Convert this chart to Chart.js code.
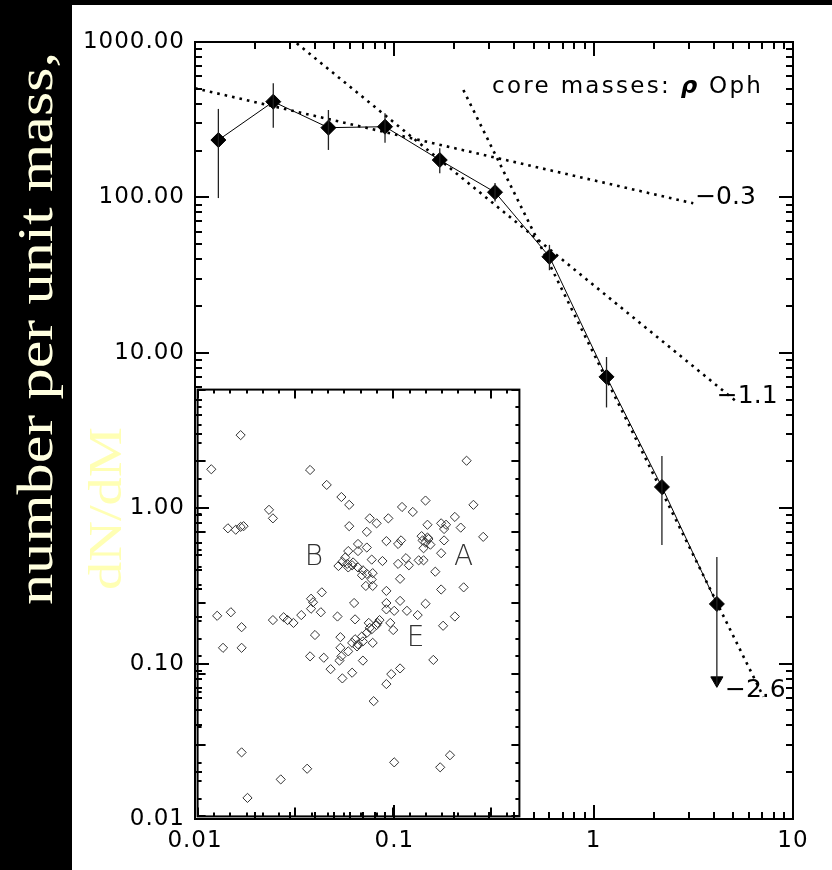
<!DOCTYPE html>
<html><head><meta charset="utf-8">
<script src="https://cdn.jsdelivr.net/npm/chart.js@4.4.1/dist/chart.umd.min.js"></script>
<style>
html,body{margin:0;padding:0;background:#000;width:832px;height:870px;overflow:hidden}
#wrap{position:relative;width:832px;height:870px}
#main{position:absolute;left:0;top:0}
#inset{position:absolute;left:192px;top:384px}
</style></head><body>
<div id="wrap"><canvas id="main" width="832" height="870"></canvas><canvas id="inset" width="333" height="438"></canvas></div>
<script>
// ---------- main plot data ----------
const massBins = [0.0131, 0.0247, 0.0467, 0.0898, 0.169, 0.32, 0.60, 1.16, 2.20, 4.15];
const dNdM     = [234, 413, 281, 285, 174, 108, 41.5, 7.0, 1.37, 0.242];
const errHigh  = [371, 542, 365, 348, 207, 124, 49.5, 9.4, 2.17, 0.485];
const errLow   = [99, 281, 202, 225, 143, 94, 34, 4.45, 0.58, 0.073];
const upperLimitMass = [4.15];
const upperLimitTip  = [0.078];

// power-law fits (end points)
const fitShallowX = [0.01, 3.16];  const fitShallowY = [504, 91.6];
const fitMidX     = [0.0324, 5.22]; const fitMidY     = [981, 4.84];
const fitSteepX   = [0.222, 7.1];  const fitSteepY   = [491, 0.0612];
const fitLabels   = ['\u22120.3', '\u22121.1', '\u22122.6'];
const fitLabelX   = [3.23, 4.15, 4.56];
const fitLabelY   = [100, 5.27, 0.0676];

const titleParts = ['core masses: ', '\u03c1', ' Oph'];
const titleAt = [0.309, 470];

const xMajorTicks = [0.01, 0.1, 1, 10];
const xTickLabels = ['0.01', '0.1', '1', '10'];
const yMajorTicks = [0.01, 0.1, 1, 10, 100, 1000];
const yTickLabels = ['0.01', '0.10', '1.00', '10.00', '100.00', '1000.00'];

const axisTitle = 'number per unit mass,';
const axisTitle2 = 'dN/dM';

// ---------- inset (core positions) ----------
const insetX = [0.44,2.75,0.14,1.15,1.32,1.47,1.55,2.33,2.09,2.20,2.82,0.73,0.77,1.76,1.95,2.63,1.83,2.35,2.49,2.54,
 1.55,0.31,0.39,0.44,0.47,2.69,1.73,2.92,1.93,2.08,2.29,2.35,2.33,2.38,2.52,2.05,1.64,1.73,2.31,1.54,
 1.64,2.49,1.51,1.48,1.59,1.78,1.89,2.13,2.26,2.31,2.05,2.16,1.44,1.54,1.64,1.69,1.79,1.68,2.43,1.78,
 2.07,1.72,1.79,2.49,2.72,1.93,1.27,1.16,1.18,2.07,1.93,1.60,2.33,1.16,1.26,0.34,0.20,0.77,0.88,0.92,
 0.98,1.06,1.43,1.61,1.93,2.01,2.14,2.25,2.63,0.45,1.75,1.86,1.83,1.78,1.73,1.68,1.61,1.58,1.63,1.69,
 1.79,2.00,1.97,2.51,1.20,1.46,0.26,0.45,1.46,1.54,1.15,1.29,1.45,1.47,1.69,2.41,1.36,1.58,1.48,2.07,
 1.98,1.93,1.80,0.45,2.58,2.01,1.12,2.48,0.85,0.51,1.76,1.84,1.64,2.36,2.30,2.52,1.53,1.58,1.73];
const insetY = [5.36,5.00,4.88,4.87,4.66,4.49,4.38,4.44,4.35,4.28,4.38,4.31,4.19,4.19,4.19,4.21,4.12,4.10,4.12,4.10,
 4.08,4.05,4.03,4.07,4.08,4.06,4.00,3.93,3.87,3.88,3.94,3.92,3.85,3.82,3.88,3.83,3.83,3.78,3.77,3.73,
 3.73,3.70,3.64,3.58,3.57,3.61,3.59,3.63,3.60,3.60,3.55,3.53,3.52,3.50,3.50,3.46,3.42,3.39,3.44,3.33,
 3.34,3.24,3.24,3.19,3.22,3.17,3.15,3.06,3.01,3.03,3.00,3.00,2.99,2.92,2.87,2.87,2.82,2.76,2.80,2.76,
 2.72,2.83,2.81,2.77,2.91,2.89,2.89,2.83,2.81,2.66,2.72,2.76,2.69,2.63,2.58,2.53,2.49,2.44,2.39,2.46,
 2.44,2.62,2.72,2.68,2.55,2.52,2.37,2.37,2.37,2.32,2.25,2.23,2.19,2.25,2.19,2.20,2.07,2.02,1.94,2.08,
 2.00,1.86,1.62,0.90,0.86,0.76,0.67,0.69,0.52,0.26,2.65,2.72,2.42,3.90,3.88,4.04,3.55,3.53,3.41];
const insetLetters = ['B', 'A', 'E'];
const insetLetterX = [1.19, 2.72, 2.23];
const insetLetterY = [3.64, 3.64, 2.50];
const insetXMajor = [0, 1, 2, 3];
const insetYMajor = [0, 1, 2, 3, 4, 5, 6];

// ---------- helpers ----------
function logMinorTicks(majors) {
  const out = [];
  for (let i = 0; i < majors.length; i++) {
    out.push(majors[i]);
    if (i < majors.length - 1) for (let k = 2; k <= 9; k++) out.push(+(majors[i] * k).toPrecision(6));
  }
  return out;
}
const xAllTicks = logMinorTicks(xMajorTicks);
const yAllTicks = logMinorTicks(yMajorTicks);
function isMajor(v, majors) { return majors.some(m => Math.abs(m - v) / m < 1e-6); }
function line(ctx, x1, y1, x2, y2) { ctx.beginPath(); ctx.moveTo(x1, y1); ctx.lineTo(x2, y2); ctx.stroke(); }

const framePlugin = {
  id: 'frame',
  beforeDraw(chart) {
    const ctx = chart.ctx;
    ctx.save();
    ctx.fillStyle = '#000';
    ctx.fillRect(0, 0, chart.width, chart.height);
    ctx.fillStyle = '#fff';
    ctx.fillRect(72, 5, chart.width - 72, chart.height - 5);
    // rotated axis titles
    ctx.save();
    ctx.translate(52, 605); ctx.rotate(-Math.PI / 2); ctx.scale(1.22, 1);
    ctx.font = '51px "Liberation Serif"'; ctx.fillStyle = '#ffffe0';
    ctx.fillText(axisTitle, 0, 0);
    ctx.restore();
    ctx.save();
    ctx.translate(121, 590); ctx.rotate(-Math.PI / 2); ctx.scale(1.2, 1);
    ctx.font = '47px "Liberation Serif"'; ctx.fillStyle = '#ffffb4';
    ctx.fillText(axisTitle2, 0, 0);
    ctx.restore();
    ctx.restore();
    ctx.letterSpacing = '1px';
  },
  beforeDatasetsDraw(chart) { chart.ctx.letterSpacing = '0px'; },
  afterDatasetsDraw(chart) {
    const ctx = chart.ctx;
    const { left, right, top, bottom } = chart.chartArea;
    const xs = chart.scales.x, ys = chart.scales.y;
    ctx.save();
    // error bars
    ctx.strokeStyle = '#222'; ctx.lineWidth = 1.3;
    massBins.forEach((m, i) => {
      const px = xs.getPixelForValue(m);
      line(ctx, px, ys.getPixelForValue(errHigh[i]), px, ys.getPixelForValue(errLow[i]));
    });
    // ticks
    ctx.strokeStyle = '#000'; ctx.lineWidth = 2;
    xAllTicks.forEach(v => {
      const px = Math.round(xs.getPixelForValue(v));
      const len = isMajor(v, xMajorTicks) ? 14 : 7;
      line(ctx, px, bottom, px, bottom - len);
      line(ctx, px, top, px, top + len);
    });
    yAllTicks.forEach(v => {
      const py = Math.round(ys.getPixelForValue(v));
      const len = isMajor(v, yMajorTicks) ? 14 : 7;
      line(ctx, left, py, left + len, py);
      line(ctx, right, py, right - len, py);
    });
    ctx.strokeRect(left, top, right - left, bottom - top);
    // fit labels
    ctx.fillStyle = '#000';
    ctx.font = '25px "DejaVu Sans"';
    ctx.textBaseline = 'middle'; ctx.textAlign = 'left';
    fitLabels.forEach((t, i) => {
      ctx.fillText(t, xs.getPixelForValue(fitLabelX[i]), ys.getPixelForValue(fitLabelY[i]));
    });
    // title
    ctx.textBaseline = 'alphabetic';
    ctx.letterSpacing = '2.3px';
    let tx = xs.getPixelForValue(titleAt[0]);
    const ty = ys.getPixelForValue(titleAt[1]);
    titleParts.forEach((t, i) => {
      ctx.font = (i === 1 ? 'italic bold ' : '') + '23px "DejaVu Sans"';
      ctx.fillText(t, tx, ty);
      tx += ctx.measureText(t).width;
    });
    ctx.letterSpacing = '0px';
    ctx.restore();
  }
};

const mainChart = new Chart(document.getElementById('main'), {
  type: 'scatter',
  data: {
    datasets: [
      { data: massBins.map((m, i) => ({ x: m, y: dNdM[i] })), showLine: true,
        borderColor: '#000', borderWidth: 1, pointStyle: 'rectRot', pointRadius: 7.5,
        pointBackgroundColor: '#000', pointBorderColor: '#000', pointBorderWidth: 1, order: 1 },
      { data: upperLimitMass.map((m, i) => ({ x: m, y: upperLimitTip[i] })), showLine: false,
        pointStyle: 'triangle', rotation: 180, pointRadius: 7, pointBackgroundColor: '#000',
        pointBorderColor: '#000', order: 1 },
      { data: fitShallowX.map((m, i) => ({ x: m, y: fitShallowY[i] })), showLine: true,
        borderColor: '#000', borderWidth: 2.6, borderDash: [2.6, 5], pointRadius: 0, order: 2 },
      { data: fitMidX.map((m, i) => ({ x: m, y: fitMidY[i] })), showLine: true,
        borderColor: '#000', borderWidth: 2.6, borderDash: [2.6, 5], pointRadius: 0, order: 2 },
      { data: fitSteepX.map((m, i) => ({ x: m, y: fitSteepY[i] })), showLine: true,
        borderColor: '#000', borderWidth: 2.6, borderDash: [2.6, 5], pointRadius: 0, order: 2 }
    ]
  },
  options: {
    responsive: false, animation: false, devicePixelRatio: 1,
    layout: { padding: { left: 75, top: 42, right: 39, bottom: 11 } },
    plugins: { legend: { display: false }, tooltip: { enabled: false } },
    scales: {
      x: {
        type: 'logarithmic', min: 0.01, max: 10, position: 'bottom',
        afterBuildTicks: s => { s.ticks = xAllTicks.map(v => ({ value: v })); },
        afterFit: s => { s.height = 40; },
        grid: { display: false, drawTicks: false }, border: { display: false },
        ticks: {
          autoSkip: false, maxRotation: 0, minRotation: 0, padding: 8, color: '#000',
          font: { family: 'DejaVu Sans', size: 23 },
          callback: v => { const k = xMajorTicks.findIndex(m => Math.abs(m - v) / m < 1e-6); return k >= 0 ? xTickLabels[k] : ''; }
        }
      },
      y: {
        type: 'logarithmic', min: 0.01, max: 1000, position: 'left',
        afterBuildTicks: s => { s.ticks = yAllTicks.map(v => ({ value: v })); },
        afterFit: s => { s.width = 120; },
        grid: { display: false, drawTicks: false }, border: { display: false },
        ticks: {
          autoSkip: false, padding: 10, color: '#000',
          font: { family: 'DejaVu Sans', size: 23 },
          callback: v => { const k = yMajorTicks.findIndex(m => Math.abs(m - v) / m < 1e-6); return k >= 0 ? yTickLabels[k] : ''; }
        }
      }
    }
  },
  plugins: [framePlugin]
});

// ---------- inset chart ----------
const insetPlugin = {
  id: 'insetFrame',
  afterDatasetsDraw(chart) {
    const ctx = chart.ctx;
    const { left, right, top, bottom } = chart.chartArea;
    const xs = chart.scales.x, ys = chart.scales.y;
    ctx.save();
    ctx.strokeStyle = '#000'; ctx.lineWidth = 2;
    for (let i = 0; i < insetXMajor.length; i++) {
      for (let k = 0; k < 6; k++) {
        const v = insetXMajor[i] + k / 6;
        if (v > xs.max) break;
        const px = Math.round(xs.getPixelForValue(v));
        const len = k === 0 ? 9 : 4;
        line(ctx, px, bottom, px, bottom - len);
        line(ctx, px, top, px, top + len);
      }
    }
    for (let i = 0; i < insetYMajor.length; i++) {
      for (let k = 0; k < 4; k++) {
        const v = insetYMajor[i] + k / 4;
        if (v > ys.max) break;
        const py = Math.round(ys.getPixelForValue(v));
        const len = k === 0 ? 8 : 4;
        line(ctx, left, py, left + len, py);
        line(ctx, right, py, right - len, py);
      }
    }
    ctx.strokeRect(left, top, right - left, bottom - top);
    ctx.fillStyle = '#333';
    ctx.font = '200 28px "DejaVu Sans"';
    ctx.textAlign = 'center'; ctx.textBaseline = 'middle';
    insetLetters.forEach((t, i) => ctx.fillText(t, xs.getPixelForValue(insetLetterX[i]), ys.getPixelForValue(insetLetterY[i])));
    ctx.restore();
  }
};

new Chart(document.getElementById('inset'), {
  type: 'scatter',
  data: { datasets: [{ data: insetX.map((v, i) => ({ x: v, y: insetY[i] })),
    pointStyle: 'rectRot', pointRadius: 4.6, pointBorderWidth: 1,
    pointBorderColor: '#333', pointBackgroundColor: 'rgba(0,0,0,0)' }] },
  options: {
    responsive: false, animation: false, devicePixelRatio: 1,
    layout: { padding: 3 },
    plugins: { legend: { display: false }, tooltip: { enabled: false } },
    scales: {
      x: { type: 'linear', min: 0, max: 3.29, display: false },
      y: { type: 'linear', min: 0, max: 6, display: false }
    }
  },
  plugins: [insetPlugin]
});
</script>
</body></html>
